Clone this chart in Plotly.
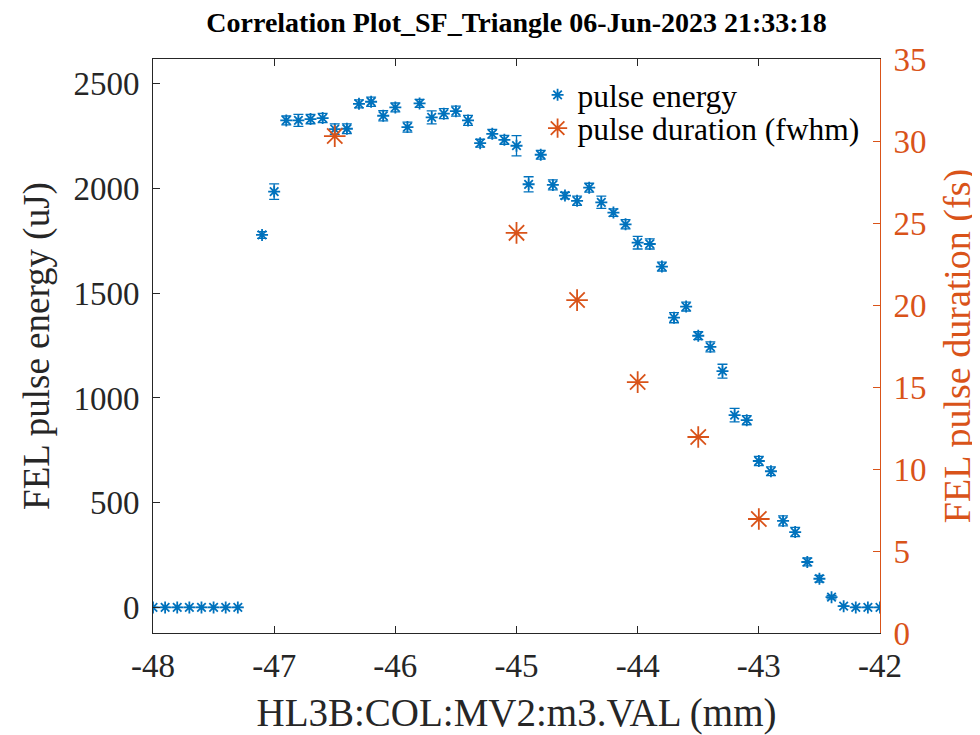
import plotly.graph_objects as go

# Pulse energy scan (position in mm)
pos_energy = [-48.0, -47.9, -47.8, -47.7, -47.6, -47.5, -47.4, -47.3,
              -47.1, -47.0, -46.9, -46.8, -46.7, -46.6, -46.5, -46.4,
              -46.3, -46.2, -46.1, -46.0, -45.9, -45.8, -45.7, -45.6,
              -45.5, -45.4, -45.3, -45.2, -45.1, -45.0, -44.9, -44.8,
              -44.7, -44.6, -44.5, -44.4, -44.3, -44.2, -44.1, -44.0,
              -43.9, -43.8, -43.7, -43.6, -43.5, -43.4, -43.3, -43.2,
              -43.1, -43.0, -42.9, -42.8, -42.7, -42.6, -42.5, -42.4,
              -42.3, -42.2, -42.1, -42.0]
energy_uJ = [0, 0, 0, 0, 0, 0, 0, 0,
             1778, 1985, 2325, 2325, 2331, 2336, 2283, 2285,
             2404, 2414, 2347, 2387, 2293, 2406, 2339, 2357,
             2369, 2325, 2216, 2261, 2232, 2204, 2020, 2161,
             2017, 1966, 1941, 2004, 1934, 1885, 1829, 1741,
             1735, 1627, 1383, 1436, 1297, 1244, 1128, 918,
             894, 699, 650, 413, 360, 217, 137, 49,
             6, 0, 0, 0]
energy_err = [0, 0, 0, 0, 0, 0, 0, 0,
              16, 37, 21, 29, 22, 22, 25, 23,
              19, 22, 24, 21, 24, 19, 31, 24,
              24, 24, 19, 21, 21, 48, 36, 21,
              24, 16, 22, 21, 29, 18, 22, 30,
              24, 21, 24, 21, 19, 24, 33, 32,
              22, 22, 21, 24, 22, 19, 16, 8,
              0, 0, 0, 0]

# Pulse duration measurements
pos_duration = [-46.5, -45.0, -44.5, -44.0, -43.5, -43.0]
duration_fs = [30.3, 24.4, 20.3, 15.3, 11.95, 6.95]

x_ticks = [-48, -47, -46, -45, -44, -43, -42]
y_ticks = [0, 500, 1000, 1500, 2000, 2500]
y2_ticks = [0, 5, 10, 15, 20, 25, 30, 35]

BLUE = "#0072BD"
ORANGE = "#D95319"
DARK = "#262626"
FONT = "Liberation Serif"
TICK_SIZE = 33

fig = go.Figure()
fig.add_trace(go.Scatter(
    x=pos_energy, y=energy_uJ, mode="markers", name="pulse energy",
    legend="legend",
    marker=dict(symbol="asterisk-open", size=10, color=BLUE,
                line=dict(color=BLUE, width=1.8)),
    error_y=dict(type="data", array=energy_err, visible=True,
                 color=BLUE, thickness=1.3, width=5),
))
fig.add_trace(go.Scatter(
    x=pos_duration, y=duration_fs, mode="markers",
    name="pulse duration (fwhm)", yaxis="y2", legend="legend2",
    marker=dict(symbol="asterisk-open", size=18, color=ORANGE,
                line=dict(color=ORANGE, width=1.8)),
))

legend_common = dict(xanchor="left", yanchor="middle",
                     bgcolor="rgba(0,0,0,0)", borderwidth=0,
                     font=dict(family=FONT, size=31.5, color="black"),
                     itemsizing="trace", itemwidth=30)

# page body adds an 8px offset, so the figure is 972x727
fig.update_layout(
    width=972, height=727,
    paper_bgcolor="white", plot_bgcolor="white",
    margin=dict(l=145, r=100, t=51, b=102, autoexpand=False),
    font=dict(family=FONT, size=TICK_SIZE, color=DARK),
    title=dict(text="Correlation Plot_SF_Triangle 06-Jun-2023 21:33:18",
               x=0.5, xanchor="center", xref="paper",
               y=0.981, yanchor="middle", yref="container",
               font=dict(family=FONT, size=28, color="black", weight="bold")),
    showlegend=True,
    legend=dict(x=0.529, y=0.9375, **legend_common),
    legend2=dict(x=0.529, y=0.8795, **legend_common),
    xaxis=dict(range=[-48, -42], tickvals=x_ticks, ticktext=[str(v) for v in x_ticks],
               showgrid=False, zeroline=False, showline=True, linecolor=DARK,
               linewidth=1, mirror="ticks", ticks="inside", ticklen=7,
               tickcolor=DARK, automargin=False, ticklabelstandoff=3,
               tickfont=dict(size=TICK_SIZE, color=DARK),
               title=dict(text="HL3B:COL:MV2:m3.VAL (mm)", standoff=16,
                          font=dict(family=FONT, size=39, color=DARK))),
    yaxis=dict(range=[-122, 2618], tickvals=y_ticks, ticktext=[str(v) for v in y_ticks],
               showgrid=False, zeroline=False, showline=True, linecolor=DARK,
               linewidth=1, ticks="inside", ticklen=7, tickcolor=DARK,
               automargin=False, ticklabelstandoff=6,
               tickfont=dict(size=TICK_SIZE, color=DARK),
               title=dict(text="FEL pulse energy (uJ)", standoff=12,
                          font=dict(family=FONT, size=37, color=DARK))),
    yaxis2=dict(range=[0, 35], tickvals=y2_ticks, ticktext=[str(v) for v in y2_ticks],
                overlaying="y", side="right", showgrid=False, zeroline=False,
                showline=True, linecolor=ORANGE, linewidth=1, ticks="inside",
                ticklen=7, tickcolor=ORANGE, automargin=False, ticklabelstandoff=6,
                tickfont=dict(size=TICK_SIZE, color=ORANGE),
                title=dict(text="FEL pulse duration (fs)", standoff=17,
                           font=dict(family=FONT, size=38, color=ORANGE))),
)

fig.write_html("out.html")
